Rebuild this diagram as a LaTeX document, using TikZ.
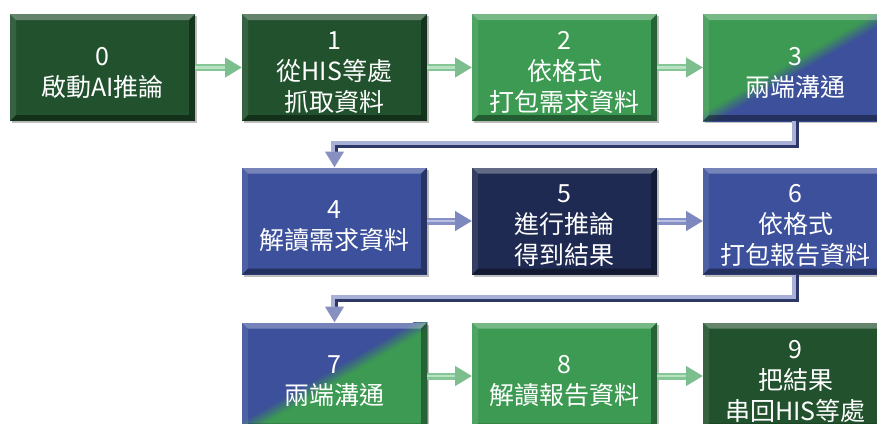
\documentclass[tikz,border=0pt]{standalone}
\usepackage{fontspec}
\newfontfamily\cjk{Noto Sans CJK TC}
\usetikzlibrary{arrows.meta,shadows}
\definecolor{dg}{HTML}{21512D}
\definecolor{mg}{HTML}{3C9A52}
\definecolor{bl}{HTML}{3C509B}
\definecolor{nv}{HTML}{1F2A52}
\definecolor{garr}{HTML}{86C595}
\definecolor{garrL}{HTML}{B9E2C3}
\definecolor{garrH}{HTML}{7DBE8E}
\definecolor{barr}{HTML}{8690C4}
\definecolor{barrL}{HTML}{B8BFE2}
\definecolor{barrH}{HTML}{7D88BE}
\definecolor{eldark}{HTML}{2E3866}
\definecolor{ellight}{HTML}{A9B0D8}
\definecolor{elhead}{HTML}{8890C2}
\newcommand\bevelparts{%
  \fill[white,opacity=0.30] (path picture bounding box.north west) -- (path picture bounding box.north east)
    -- ([xshift=-6pt,yshift=-6pt]path picture bounding box.north east) -- ([xshift=6pt,yshift=-6pt]path picture bounding box.north west) -- cycle;
  \fill[white,opacity=0.10] (path picture bounding box.north west) -- ([xshift=6pt,yshift=-6pt]path picture bounding box.north west)
    -- ([xshift=6pt,yshift=6pt]path picture bounding box.south west) -- (path picture bounding box.south west) -- cycle;
  \fill[black,opacity=0.35] (path picture bounding box.north east) -- (path picture bounding box.south east)
    -- ([xshift=-6pt,yshift=6pt]path picture bounding box.south east) -- ([xshift=-6pt,yshift=-6pt]path picture bounding box.north east) -- cycle;
  \fill[black,opacity=0.40] (path picture bounding box.south west) -- (path picture bounding box.south east)
    -- ([xshift=-6pt,yshift=6pt]path picture bounding box.south east) -- ([xshift=6pt,yshift=6pt]path picture bounding box.south west) -- cycle;
}
% #1 = colour below the SW-NE diagonal, #2 = colour above it
\newcommand\splitbands[2]{%
  \foreach \v/\p in {8/6,6/18,4/31,2/44,0/56,-2/69,-4/82,-6/94,-8/100}{%
    \fill[#1!\p!#2] ([yshift=\v pt]path picture bounding box.south west) -- ([yshift=\v pt]path picture bounding box.north east)
      -- ([yshift=-300pt]path picture bounding box.north east) -- ([yshift=-300pt]path picture bounding box.south west) -- cycle;
  }%
}
\tikzset{
  boxbase/.style={rectangle, minimum width=185pt, minimum height=107pt, inner sep=0pt, outer sep=0pt,
    drop shadow={shadow xshift=2pt, shadow yshift=-2pt, opacity=0.25, fill=black},
    path picture={\bevelparts}},
  txt/.style={text=white, align=center, inner sep=0pt, font=\cjk\fontsize{25}{31}\selectfont},
  darkg/.style={boxbase, fill=dg},
  midg/.style={boxbase, fill=mg},
  blue/.style={boxbase, fill=bl},
  navy/.style={boxbase, fill=nv},
  splitgb/.style={boxbase, fill=mg, path picture={\splitbands{bl}{mg}\bevelparts}},
  splitbg/.style={boxbase, fill=bl, path picture={\splitbands{mg}{bl}\bevelparts}},
  garrow/.style={draw=garr, line width=7pt, -{Triangle[length=17pt,width=19pt,color=garrH]},
    postaction={draw=garrL, line width=2.5pt, -, shorten >=17pt}},
  barrow/.style={draw=barr, line width=7pt, -{Triangle[length=17pt,width=19pt,color=barrH]},
    postaction={draw=barrL, line width=2.5pt, -, shorten >=17pt}},
  elbowd/.style={draw=eldark, line width=7pt, -{Triangle[length=16pt,width=18pt,color=elhead]}},
  elbowl/.style={draw=ellight, line width=4pt, shorten >=16pt},
}
\begin{document}
\begin{tikzpicture}[x=1pt,y=-1pt]
\useasboundingbox (0,0) rectangle (877,423);
\clip (0,0) rectangle (877,423);
\fill[white] (0,0) rectangle (877,423);
% boxes
\node[darkg] (b0) at (102.5,67.5) {};
\node[darkg] (b1) at (334.5,67.5) {};
\node[midg] (b2) at (564.5,67.5) {};
\node[splitgb] (b3) at (795.5,67.5) {};
\node[blue] (b4) at (334.5,221) {};
\node[navy] (b5) at (564.5,221) {};
\node[blue] (b6) at (795.5,221) {};
\node[splitbg] (b7) at (334.5,376) {};
\node[midg] (b8) at (564.5,376) {};
\node[darkg] (b9) at (795.5,376) {};
% texts
\node[txt] (t0) at ([yshift=-5pt]b0.center) {0\\啟動AI推論};
\node[txt] (t1) at ([yshift=-5pt]b1.center) {1\\從HIS等處\\抓取資料};
\node[txt] (t2) at ([yshift=-5pt]b2.center) {2\\依格式\\打包需求資料};
\node[txt] (t3) at ([yshift=-5pt]b3.center) {3\\兩端溝通};
\node[txt] (t4) at ([yshift=-5pt]b4.center) {4\\解讀需求資料};
\node[txt] (t5) at ([yshift=-5pt]b5.center) {5\\進行推論\\得到結果};
\node[txt] (t6) at ([yshift=-5pt]b6.center) {6\\依格式\\打包報告資料};
\node[txt] (t7) at ([yshift=-5pt]b7.center) {7\\兩端溝通};
\node[txt] (t8) at ([yshift=-5pt]b8.center) {8\\解讀報告資料};
\node[txt] (t9) at ([yshift=-5pt]b9.center) {9\\把結果\\串回HIS等處};
% horizontal arrows
\draw[garrow] (b0) -- (b1);
\draw[garrow] (b1) -- (b2);
\draw[garrow] (b2) -- (b3);
\draw[barrow] (b4) -- (b5);
\draw[barrow] (b5) -- (b6);
\draw[garrow] (b7) -- (b8);
\draw[garrow] (b8) -- (b9);
% elbow connectors
\coordinate (m1) at (564.5,144);
\coordinate (m2) at (564.5,298);
\draw[elbowd] (b3.south) |- (m1) -| (b4.north);
\draw[elbowl] ([xshift=-1.5pt]b3.south) |- ([yshift=1.5pt]m1) -| ([xshift=-1.5pt]b4.north);
\draw[elbowd] (b6.south) |- (m2) -| (b7.north);
\draw[elbowl] ([xshift=-1.5pt]b6.south) |- ([yshift=1.5pt]m2) -| ([xshift=-1.5pt]b7.north);
\end{tikzpicture}
\end{document}
